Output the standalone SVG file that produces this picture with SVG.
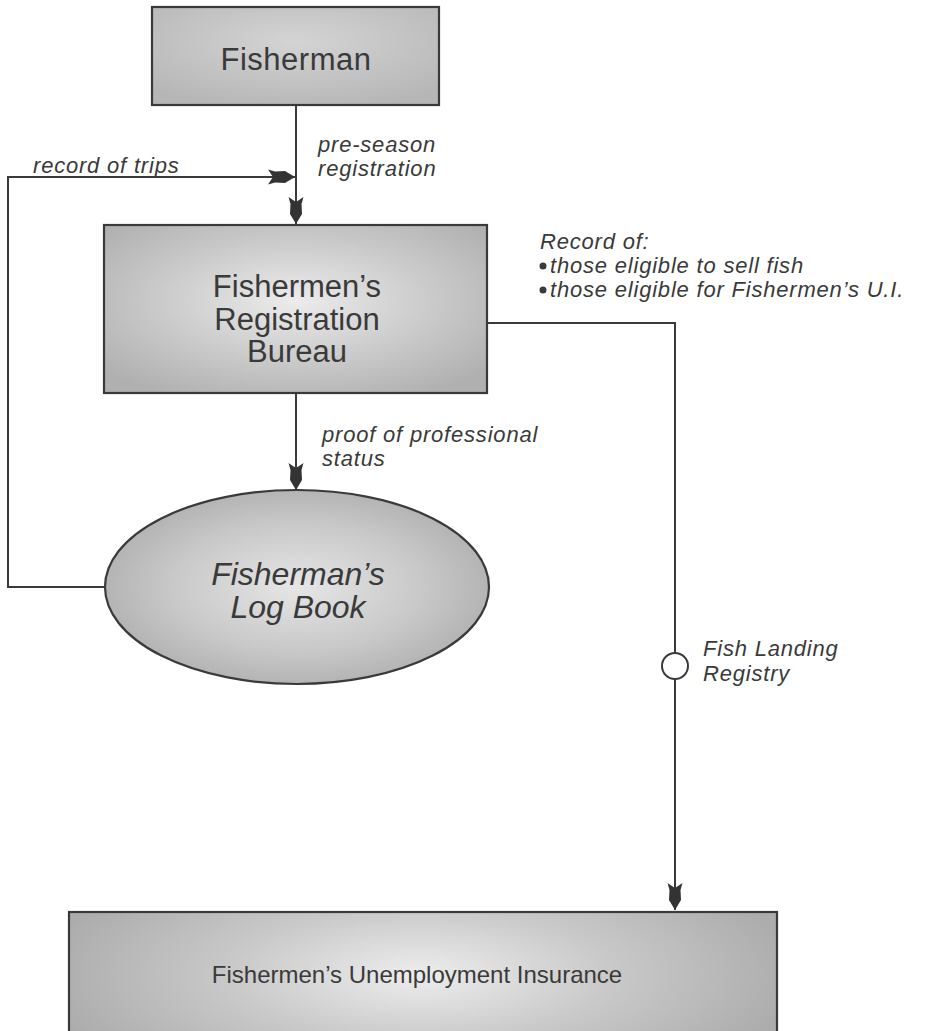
<svg xmlns="http://www.w3.org/2000/svg" width="944" height="1031" viewBox="0 0 944 1031">
  <style>
    .box { stroke: #3a3a3a; stroke-width: 2.2; }
    .conn { fill: none; stroke: #3a3a3a; stroke-width: 2; }
    .title { font-family: "Liberation Sans", Arial, sans-serif; fill: #3a3a3a; text-anchor: middle; }
    .lbl { font-family: "Liberation Sans", Arial, sans-serif; font-style: italic; fill: #3a3a3a; font-size: 22px; letter-spacing: 0.8px; }
  </style>
  <defs>
    <radialGradient id="gBox1" cx="0.5" cy="0.35" r="0.7">
      <stop offset="0" stop-color="#d4d4d4"/>
      <stop offset="1" stop-color="#b6b6b6"/>
    </radialGradient>
    <radialGradient id="gBox2" cx="0.5" cy="0.45" r="0.65">
      <stop offset="0" stop-color="#ececec"/>
      <stop offset="0.5" stop-color="#cdcdcd"/>
      <stop offset="1" stop-color="#b0b0b0"/>
    </radialGradient>
    <radialGradient id="gEll" cx="0.5" cy="0.5" r="0.6">
      <stop offset="0" stop-color="#e6e6e6"/>
      <stop offset="0.55" stop-color="#c8c8c8"/>
      <stop offset="1" stop-color="#a8a8a8"/>
    </radialGradient>
    <radialGradient id="gBox3" gradientUnits="userSpaceOnUse" cx="420" cy="975" r="380" gradientTransform="translate(420 975) scale(1 0.35) translate(-420 -975)">
      <stop offset="0" stop-color="#ededed"/>
      <stop offset="0.5" stop-color="#c9c9c9"/>
      <stop offset="1" stop-color="#acacac"/>
    </radialGradient>
    <marker id="arr" markerUnits="userSpaceOnUse" markerWidth="32" markerHeight="16" viewBox="0 0 32 16" refX="31" refY="8" orient="auto">
      <path d="M31,8 L21,2 L11,2.5 L4,0.5 L9,8 L4,15.5 L11,13.5 L21,14 Z" fill="#333"/>
    </marker>
  </defs>

  <g id="connectors">
    <path class="conn" d="M296,105 V224" marker-end="url(#arr)"/>
    <path class="conn" d="M106,587 H8 V177 H295" marker-end="url(#arr)"/>
    <path class="conn" d="M296,393 V490" marker-end="url(#arr)"/>
    <path class="conn" d="M487,323 H675 V910" marker-end="url(#arr)"/>
    <circle cx="675" cy="666" r="13" fill="#ffffff" stroke="#3a3a3a" stroke-width="2"/>
  </g>

  <g id="node-fisherman">
    <rect class="box" x="152" y="7" width="287" height="98" fill="url(#gBox1)"/>
    <text class="title" x="296" y="70" font-size="31" letter-spacing="0.5">Fisherman</text>
  </g>

  <g id="node-bureau">
    <rect class="box" x="104" y="225" width="383" height="168" fill="url(#gBox2)"/>
    <text class="title" x="297" y="297" font-size="31">Fishermen’s</text>
    <text class="title" x="297" y="330" font-size="31">Registration</text>
    <text class="title" x="297" y="362" font-size="31">Bureau</text>
  </g>

  <g id="node-logbook">
    <ellipse class="box" cx="297" cy="587" rx="192" ry="97" fill="url(#gEll)"/>
    <text class="title" x="298" y="585" font-size="32" font-style="italic">Fisherman’s</text>
    <text class="title" x="298" y="618" font-size="32" font-style="italic">Log Book</text>
  </g>

  <g id="node-ui">
    <rect class="box" x="69" y="912" width="708" height="140" fill="url(#gBox3)"/>
    <text class="title" x="417" y="983" font-size="24">Fishermen’s Unemployment Insurance</text>
  </g>

  <g id="labels">
    <text class="lbl" x="318" y="152">pre-season</text>
    <text class="lbl" x="318" y="176">registration</text>
    <text class="lbl" x="33" y="173">record of trips</text>
    <text class="lbl" x="540" y="249">Record of:</text>
    <circle cx="543" cy="266" r="3.5" fill="#3a3a3a"/>
    <text class="lbl" x="550" y="273">those eligible to sell fish</text>
    <circle cx="543" cy="290" r="3.5" fill="#3a3a3a"/>
    <text class="lbl" x="550" y="297">those eligible for Fishermen’s U.I.</text>
    <text class="lbl" x="322" y="442">proof of professional</text>
    <text class="lbl" x="322" y="466">status</text>
    <text class="lbl" x="703" y="656">Fish Landing</text>
    <text class="lbl" x="703" y="681">Registry</text>
  </g>
</svg>
